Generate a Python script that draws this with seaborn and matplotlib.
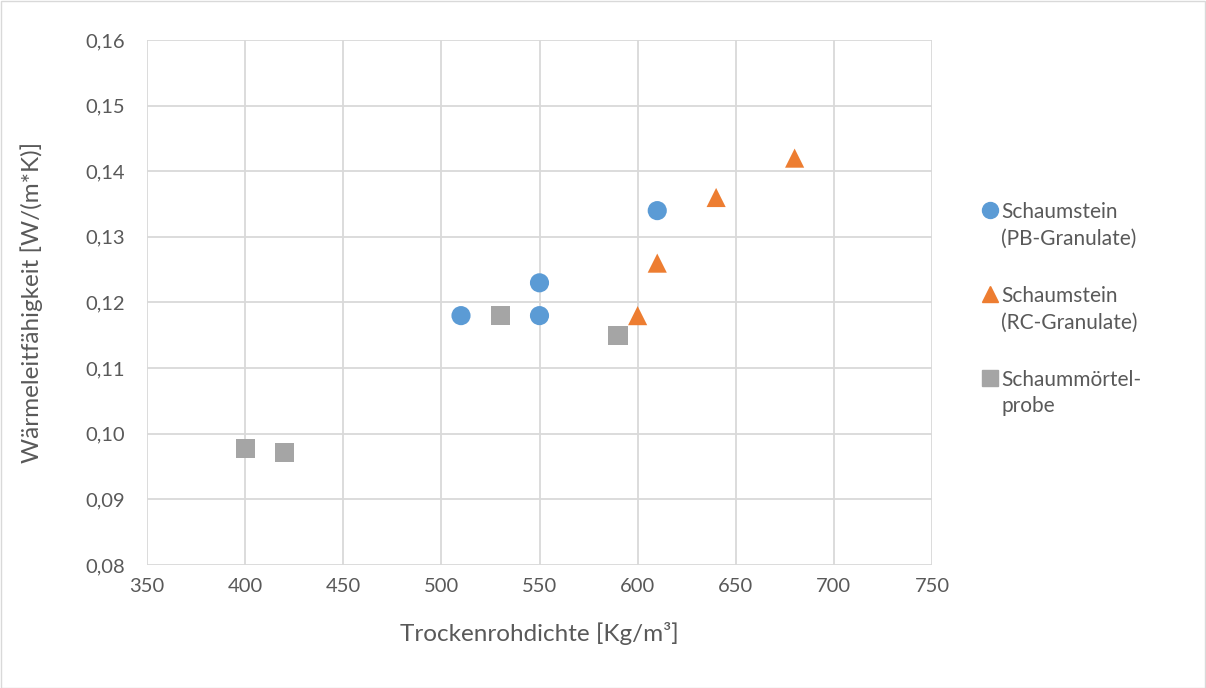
import matplotlib
matplotlib.use("Agg")
import matplotlib.pyplot as plt
import seaborn as sns
import pandas as pd
from matplotlib.ticker import FuncFormatter, MultipleLocator
from matplotlib.lines import Line2D

pb_x = [510, 550, 550, 610]
pb_y = [0.118, 0.123, 0.118, 0.134]
rc_x = [600, 610, 640, 680]
rc_y = [0.118, 0.126, 0.136, 0.142]
sm_x = [400, 420, 530, 590]
sm_y = [0.0978, 0.0971, 0.118, 0.115]
labels = ["Schaumstein\n(PB-Granulate)", "Schaumstein\n(RC-Granulate)", "Schaummörtel-\nprobe"]
colors = ["#5B9BD5", "#ED7D31", "#A5A5A5"]
markers = ["o", "^", "s"]

df = pd.concat([
    pd.DataFrame({"x": pb_x, "y": pb_y, "s": labels[0]}),
    pd.DataFrame({"x": rc_x, "y": rc_y, "s": labels[1]}),
    pd.DataFrame({"x": sm_x, "y": sm_y, "s": labels[2]}),
])

sns.set_theme(style="white")
plt.rcParams["font.family"] = ["Lato", "DejaVu Sans"]
W, H = 1206, 688
fig = plt.figure(figsize=(W / 100, H / 100), dpi=100)
ax = fig.add_axes([147 / W, 1 - 565 / H, (932 - 147) / W, (565 - 40) / H])

sns.scatterplot(data=df, x="x", y="y", hue="s", style="s",
                palette=dict(zip(labels, colors)),
                markers=dict(zip(labels, markers)),
                s=190, linewidth=0, ax=ax, zorder=3, legend=False)

ax.set_xlim(350, 750)
ax.set_ylim(0.08, 0.16)
ax.xaxis.set_major_locator(MultipleLocator(50))
ax.yaxis.set_major_locator(MultipleLocator(0.01))
ax.yaxis.set_major_formatter(FuncFormatter(lambda v, p: f"{v:.2f}".replace(".", ",")))
ax.grid(True, color="#D9D9D9", linewidth=1.3)
for sp in ax.spines.values():
    sp.set_visible(False)
ax.tick_params(axis="both", length=0, labelsize=14.5, colors="#595959")
ax.tick_params(axis="y", pad=16)
ax.tick_params(axis="x", pad=9)
ax.set_xlabel("Trockenrohdichte [Kg/m³]", fontsize=17.5, color="#595959", labelpad=20)
ax.set_ylabel("Wärmeleitfähigkeit [W/(m*K)]", fontsize=17.5, color="#595959", labelpad=30)

# legend drawn manually (marker aligned with first text line, like Excel)
leg_y = [210, 294, 378]
for lab, c, m, yy in zip(labels, colors, markers, leg_y):
    fig.add_artist(Line2D([990 / W], [1 - yy / H], transform=fig.transFigure,
                          linestyle="", marker=m, color=c, markersize=11.5))
    fig.text(1001 / W, 1 - (yy - 8) / H, lab, fontsize=15, color="#595959",
             va="top", ha="left", linespacing=1.4)

fig.patches.append(plt.Rectangle((0.5 / W, 0.5 / H), 1 - 1.5 / W, 1 - 1.5 / H,
                                 transform=fig.transFigure, fill=False,
                                 edgecolor="#D9D9D9", linewidth=1))
fig.savefig("out.png", dpi=100)
